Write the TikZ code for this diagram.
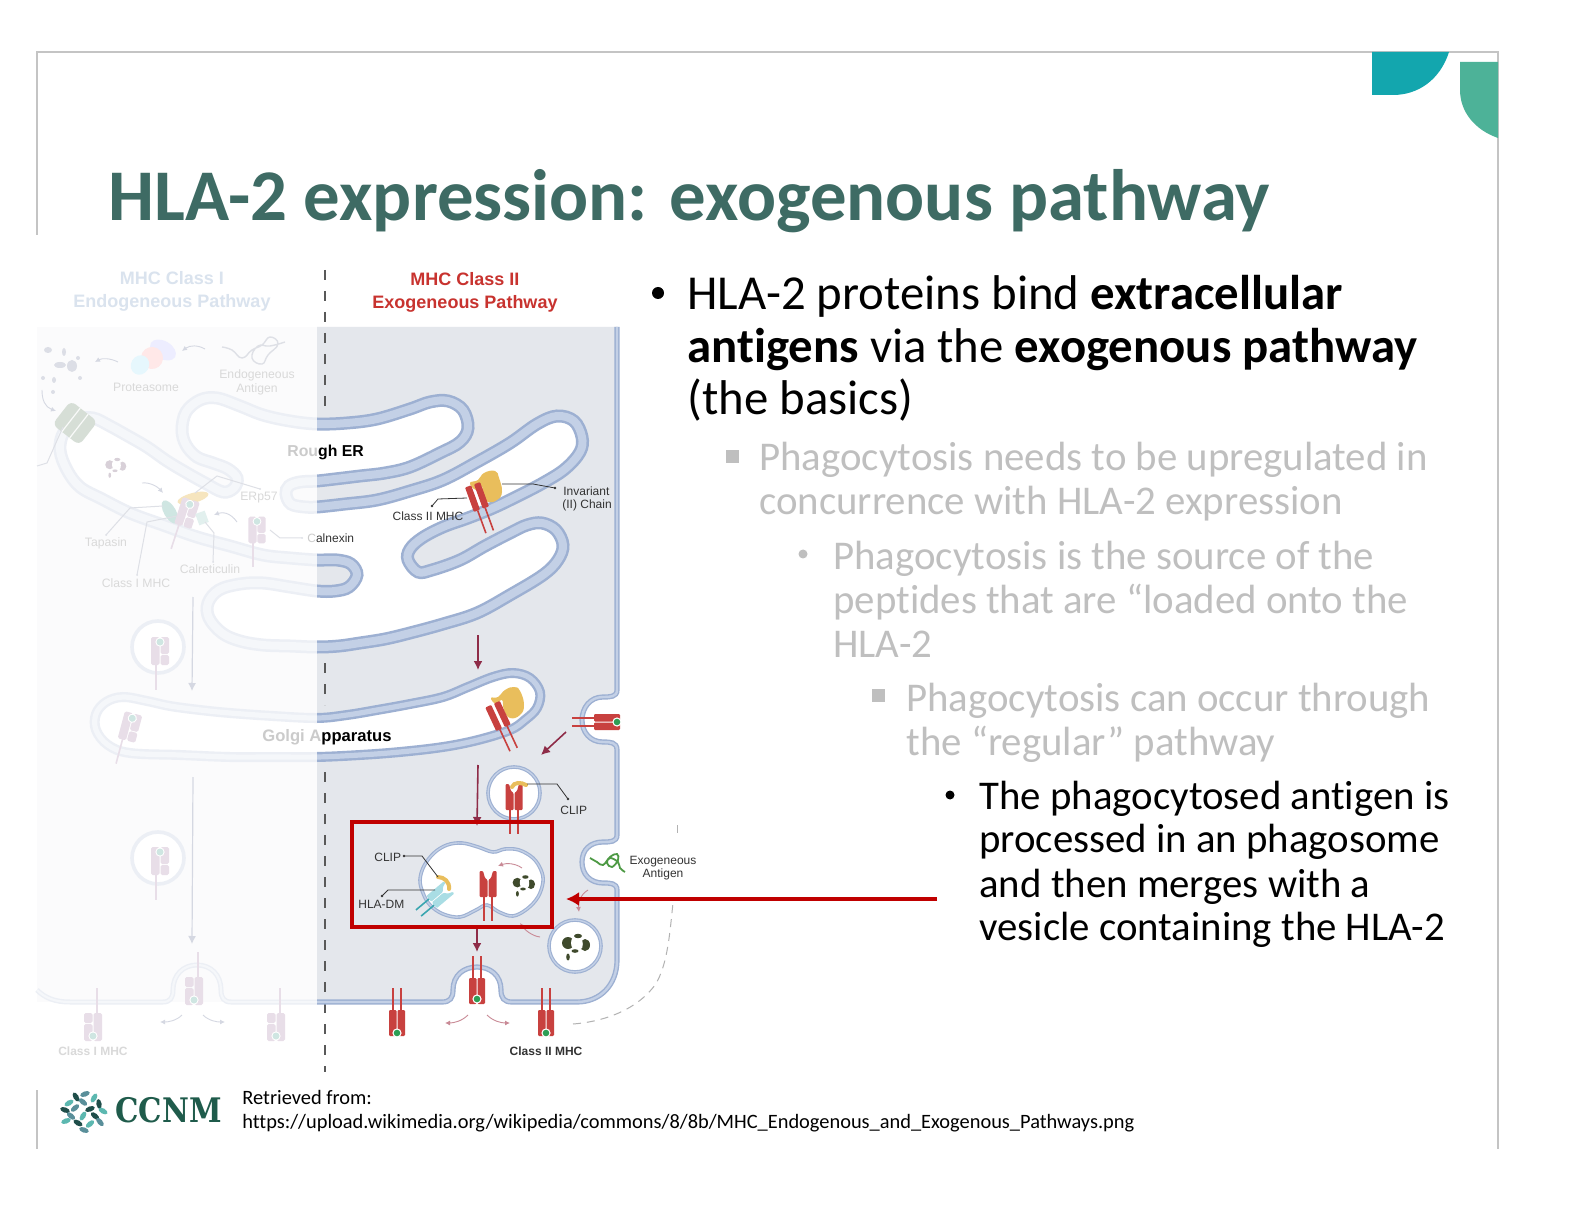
\documentclass[tikz,border=0pt]{standalone}
\usepackage{fontspec}
\usetikzlibrary{arrows.meta}
\setmainfont[Ligatures=NoCommon]{Carlito}
\newfontfamily\lab{Liberation Sans}
\newfontfamily\logofont{DejaVu Serif}
\definecolor{titlecol}{HTML}{3E6B64}
\definecolor{framecol}{HTML}{C4C4C4}
\definecolor{cornerA}{HTML}{13A6AE}
\definecolor{cornerB}{HTML}{4DB298}
\definecolor{greytext}{HTML}{BFBFBF}
\definecolor{panelgrey}{HTML}{E4E7EC}
\definecolor{panelfaint}{HTML}{FBFBFC}
\definecolor{banddark}{HTML}{9DB0D2}
\definecolor{bandlight}{HTML}{C3D0E6}
\definecolor{fbanddark}{HTML}{ECEFF5}
\definecolor{fbandlight}{HTML}{F5F7FA}
\definecolor{mhcred}{HTML}{C8413F}
\definecolor{mhcfaint}{HTML}{E8DEE8}
\definecolor{arrowred}{HTML}{8E2C48}
\definecolor{pinkarrow}{HTML}{C98A96}
\definecolor{boxred}{HTML}{C00000}
\definecolor{darkdebris}{HTML}{3F4A2C}
\definecolor{faintdebris}{HTML}{DCDEE6}
\definecolor{fainttext}{HTML}{D9D9D9}
\definecolor{fadebold}{HTML}{CBCBCB}
\definecolor{fainthead}{HTML}{DAE3EE}
\definecolor{headred}{HTML}{C8332F}
\definecolor{faintline}{HTML}{DEE0E6}
\definecolor{faintarrow}{HTML}{D5D8E2}
\definecolor{cliporange}{HTML}{E9BE5C}
\definecolor{labeltext}{HTML}{333333}
\definecolor{pepgreen}{HTML}{2E9E55}
\definecolor{pepfaint}{HTML}{CFE6E2}
\definecolor{dmblue}{HTML}{A9DDE4}
\definecolor{dmteal}{HTML}{3AA6B0}
\definecolor{antigen}{HTML}{4E9A45}
\definecolor{logoink}{HTML}{1F5B4B}
\definecolor{leafA}{HTML}{1F4E4A}
\definecolor{leafB}{HTML}{5CB8B0}
\definecolor{leafC}{HTML}{5A8F9A}
\definecolor{transl}{HTML}{D6DED6}
\tikzset{
  txt/.style={inner sep=0pt,anchor=base west},
  ctr/.style={inner sep=0pt,anchor=base},
  body/.style={txt,font=\fontsize{#1}{#1}\selectfont},
  lbl/.style={ctr,font=\lab\fontsize{6}{7}\selectfont,text=labeltext},
  flbl/.style={ctr,font=\lab\fontsize{6.1}{7}\selectfont,text=fainttext},
  mainarr/.style={arrowred,line width=.8pt,-{Latex[length=4.5pt,width=4.5pt]}},
  softarr/.style={pinkarrow,line width=.45pt,-{Latex[length=2.5pt,width=2.5pt]}},
  fadearr/.style={faintarrow,line width=.6pt,-{Latex[length=4pt,width=4pt]}},
  softfade/.style={faintarrow,line width=.45pt,-{Latex[length=2.5pt,width=2.5pt]}},
  leader/.style={labeltext,line width=.4pt},
  fleader/.style={faintline,line width=.5pt},
  pics/mhcout/.style={code={
    \draw[#1,line width=.8pt] (-4,-35) -- (-4,-13) (4,-35) -- (4,-13);
    \fill[#1,rounded corners=.6pt] (-8,-13) rectangle (-.5,13);
    \fill[#1,rounded corners=.6pt] (.5,-13) rectangle (8,13);
  }},
  pics/peptide/.style={code={
    \fill[white] (0,10) circle (4.6);
    \fill[#1] (0,10) circle (3.3);
  }},
  pics/mhcup/.style={code={
    \draw[#1,line width=.8pt] (-4,13) -- (-4,37) (4,13) -- (4,37);
    \fill[#1,rounded corners=.5pt] (-8.5,-13) -- (-5,-13) -- (-3,-6) -- (-.5,-4) -- (-.5,13) -- (-8.5,13) -- cycle;
    \fill[#1,rounded corners=.5pt] (8.5,-13) -- (5,-13) -- (3,-6) -- (.5,-4) -- (.5,13) -- (8.5,13) -- cycle;
  }},
  pics/mhcbar/.style={code={
    \draw[mhcred,line width=.8pt] (-4,13) -- (-4,37) (4,13) -- (4,37);
    \fill[mhcred,rounded corners=.5pt] (-8,-13) rectangle (-1.5,13);
    \fill[mhcred,rounded corners=.5pt] (1.5,-13) rectangle (8,13);
  }},
  pics/hladm/.style={code={
    \draw[dmteal,line width=.8pt] (-4,10) -- (-4,28) (4,10) -- (4,28);
    \fill[dmblue,rounded corners=.5pt] (-8,-12) -- (-6,-12) -- (-4,-7) -- (-.5,-4) -- (-.5,11) -- (-8,11) -- cycle;
    \fill[dmblue,rounded corners=.5pt] (8,-12) -- (6,-12) -- (4,-7) -- (.5,-4) -- (.5,11) -- (8,11) -- cycle;
  }},
  pics/classone/.style={code={
    \draw[mhcfaint,line width=.8pt] (4,-39) -- (4,-13);
    \fill[mhcfaint,rounded corners=.8pt] (0.5,-14) rectangle (9,14);
    \fill[mhcfaint,rounded corners=.8pt] (-9,-14) rectangle (-0.5,-4);
    \fill[mhcfaint,rounded corners=.8pt] (-9,-3) rectangle (-0.5,14);
    \fill[white] (0,9) circle (4.6);
    \fill[pepfaint] (0,9) circle (3.5);
  }},
  pics/classonein/.style={code={
    \draw[mhcfaint,line width=.8pt] (-4,13) -- (-4,39);
    \fill[mhcfaint,rounded corners=.8pt] (-9,-14) rectangle (-0.5,14);
    \fill[mhcfaint,rounded corners=.8pt] (0.5,-14) rectangle (9,3);
    \fill[mhcfaint,rounded corners=.8pt] (0.5,4) rectangle (9,14);
    \fill[white] (0,-9) circle (4.6);
    \fill[pepfaint] (0,-9) circle (3.5);
  }},
  pics/debris/.style={code={
    \fill[#1] (-7,-3) ellipse (6 and 6);
    \fill[#1] (3,-10) ellipse (4 and 2.2);
    \fill[#1] (10,-1) ellipse (5 and 6);
    \fill[#1] (0,5) ellipse (3.5 and 1.8);
    \fill[#1] (-7,11) ellipse (1.8 and 3.5);
    \fill[white] (-2,-3) ellipse (2 and 5);
    \fill[white] (6,-2) ellipse (1.8 and 5);
  }},
}
\def\ercurve{plot[smooth cycle,tension=.6] coordinates {
 (377,419)(410,409)(430,402)(448,401)(463,410)(468,428)(460,442)(440,453)(410,467)(385,473)(360,476)(335,479)(317,481)
 (300,482)(289,486)(286,494)(291,504)(305,507)(317,507)(345,504)(377,500)(410,491)(443,480)(477,462)(510,443)(537,424)(557,416)(574,421)(582,437)(580,452)(565,469)(543,483)(518,496)(493,508)(468,518)(443,527)(422,538)(410,549)(408,560)(418,572)(432,570)(460,560)(485,546)(510,533)(527,525)(542,523)(556,530)(563,545)(558,560)(543,575)(510,595)(477,613)(443,624)(410,633)(385,639)(360,643)(339,646)(317,647)(290,646)(263,645)(240,641)(222,633)(209,618)(208,603)(219,590)(240,584)(263,583)(290,587)(317,591)(335,591)(349,587)(357,575)(351,564)(337,560)(317,560)(290,558)(263,555)(230,546)(197,537)(163,525)(130,513)(102,499)(80,487)(67,470)(60,450)(64,432)(78,420)(93,418)(110,426)(128,436)(147,447)(167,461)(187,473)(205,483)(223,492)(234,488)(237,478)(228,469)(213,463)(197,457)(186,445)(182,430)(186,412)(200,400)(217,398)(240,406)(263,415)(290,421)(317,424)(347,423)}}
\def\golgicurve{plot[smooth cycle,tension=.6] coordinates {
 (317,718)(347,715)(377,710)(410,704)(443,697)(468,687)(493,677)(513,673)(530,678)(540,692)(537,708)(525,720)(510,730)(478,740)(443,747)(400,752)(360,755)(317,757)(273,757)(230,757)(180,755)(130,753)(108,745)(96,730)(96,714)(106,702)(123,697)(147,701)(170,706)(200,710)(230,713)(273,716)}}
\def\cellcurve{(617,327) -- (617,690) .. controls (617,697) and (610,697) .. (603,697) .. controls (590,697) and (582,708) .. (582,720) .. controls (582,732) and (590,742) .. (603,742) .. controls (610,742) and (617,742) .. (617,750) -- (617,835) .. controls (617,842) and (610,842) .. (603,842) .. controls (590,842) and (582,850) .. (582,862) .. controls (582,874) and (590,883) .. (603,883) .. controls (610,883) and (617,883) .. (617,890) -- (617,960) .. controls (617,985) and (600,1002) .. (577,1002) -- (512,1002) .. controls (504,1002) and (501,998) .. (501,990) .. controls (501,975) and (490,967) .. (477,967) .. controls (464,967) and (453,975) .. (453,990) .. controls (453,998) and (450,1002) .. (442,1002) -- (317,1002)}
\def\faintcell{(37,990) .. controls (45,998) and (55,1002) .. (70,1002) -- (163,1002) .. controls (170,1002) and (173,998) .. (173,990) .. controls (173,975) and (183,965) .. (197,965) .. controls (211,965) and (221,975) .. (221,990) .. controls (221,998) and (224,1002) .. (231,1002) -- (317,1002)}
\def\lysocurve{plot[smooth cycle,tension=.6] coordinates {(420,880)(424,866)(434,853)(447,845)(462,843)(478,847)(493,852)(505,849)(519,850)(533,858)(541,870)(543,882)(538,897)(527,909)(513,916)(499,912)(487,905)(476,910)(460,917)(443,914)(430,905)(423,893)}}
\begin{document}
\begin{tikzpicture}[x=.5pt,y=-.5pt]
\useasboundingbox (0,0) rectangle (1584,1224);
\fill[white] (0,0) rectangle (1584,1224);

% ---------- slide frame and corners
\draw[framecol,line width=.7pt] (37,235) -- (37,52) -- (1498,52) -- (1498,1149);
\draw[framecol,line width=.7pt] (37,1090) -- (37,1149);
\fill[cornerA] (1372,52) -- (1449,52) .. controls (1440,80) and (1418,95) .. (1393,95) -- (1372,95) -- cycle;
\fill[cornerB] (1460,62) -- (1498,62) -- (1498,138) .. controls (1475,130) and (1460,112) .. (1460,90) -- cycle;

% ---------- cell background
\fill[panelfaint] (37,327) rectangle (317,1002);
\fill[panelgrey] \cellcurve -- (317,327) -- cycle;

% dashed divider
\draw[black!65,line width=.6pt,dash pattern=on 5pt off 5.5pt] (325,270) -- (325,408);
\draw[black!65,line width=.6pt,dash pattern=on 5pt off 5.5pt] (325,663) -- (325,705);
\draw[black!65,line width=.6pt,dash pattern=on 5pt off 5.5pt] (325,772) -- (325,1072);

% membranes
\draw[fbanddark,line width=2.5pt] \faintcell;
\draw[fbandlight,line width=1.1pt] \faintcell;
\draw[banddark,line width=2.6pt] \cellcurve;
\draw[bandlight,line width=1.2pt] \cellcurve;

% ER and Golgi, faded on the left
\begin{scope}
\clip (30,300) rectangle (317,1000);
\fill[white] \ercurve;
\draw[fbanddark,line width=6.5pt] \ercurve;
\draw[fbandlight,line width=4pt] \ercurve;
\fill[white] \golgicurve;
\draw[fbanddark,line width=5pt] \golgicurve;
\draw[fbandlight,line width=2.6pt] \golgicurve;
\end{scope}
\begin{scope}
\clip (317,300) rectangle (700,1000);
\fill[white] \ercurve;
\draw[banddark,line width=6.5pt] \ercurve;
\draw[bandlight,line width=4pt] \ercurve;
\fill[white] \golgicurve;
\draw[banddark,line width=5pt] \golgicurve;
\draw[bandlight,line width=2.6pt] \golgicurve;
\end{scope}

% ---------- faded class I side
\fill[transl,rounded corners=3pt,rotate around={-38:(75,423)}] (58,408) rectangle (92,438);
\draw[white!85!transl,line width=.6pt,rotate around={-38:(75,423)}] (70,408) -- (70,438) (80,408) -- (80,438);
\draw[fleader] (63,427) -- (47,463) -- (37,466);
\fill[faintdebris] (48,350) ellipse (4 and 3) (64,352) ellipse (2 and 4) (43,378) ellipse (2 and 2) (80,378) ellipse (2 and 2) (54,380) ellipse (2 and 3) (78,358) ellipse (2 and 2) (60,365) ellipse (6 and 3) (72,366) ellipse (5 and 6) (53,392) ellipse (2 and 2);
\fill[blue!7,rotate around={60:(163,350)}] (163,350) ellipse (9 and 14);
\fill[red!9,rotate around={60:(152,358)}] (152,358) ellipse (11 and 11);
\fill[cyan!10,rotate around={60:(140,365)}] (140,365) ellipse (10 and 9);
\draw[faintline,line width=.7pt] plot[smooth,tension=.8] coordinates {(222,347)(232,350)(242,358)(252,350)(262,345)(270,337)(278,344)(268,355)(262,364)(252,358)(258,346)(270,346)(285,342)};
\draw[softfade] (205,349) .. controls (198,345) and (190,345) .. (182,351);
\draw[softfade] (118,362) .. controls (110,358) and (102,358) .. (95,362);
\draw[softfade] (42,390) .. controls (42,400) and (45,407) .. (56,411);
\pic at (115,467) [scale=.75] {debris=mhcfaint!85!gray};
\draw[softfade] (142,483) .. controls (150,482) and (158,487) .. (163,493);
\draw[softfade] (237,522) .. controls (230,512) and (222,512) .. (214,515);
\fill[cliporange!40!white,rotate around={15:(193,498)}] (193,498) ellipse (16 and 5);
\fill[pepfaint,rotate around={-60:(170,512)}] (170,512) ellipse (13 and 6);
\pic[rotate=-18] at (187,513) {classonein};
\fill[pepfaint!60!white,rotate around={20:(202,518)}] (197,512) rectangle (207,524);
\pic[rotate=0,scale=.95] at (257,530) {classonein};
% leaders, faded
\draw[fleader] (195,493) -- (217,476) -- (260,489);
\draw[fleader] (163,506) -- (130,508) -- (106,535);
\draw[fleader] (177,516) -- (147,522) -- (137,575);
\draw[fleader] (205,522) -- (214,533) -- (213,562);
\draw[fleader] (270,530) -- (280,538) -- (302,538);
\fill[faintline] (260,489) circle (1) (106,535) circle (1) (137,575) circle (1) (213,562) circle (1) (302,538) circle (1);
% faded vesicles and class I molecules
\foreach \vx/\vy in {158/647,158/858}{
  \fill[white] (\vx,\vy) circle (26);
  \draw[fbanddark,line width=1.8pt] (\vx,\vy) circle (26);
}
\pic at (160,651) {classonein};
\pic at (160,861) {classonein};
\pic[rotate=-15] at (130,727) {classonein};
\pic at (93,1027) {classone};
\pic at (276,1027) {classone};
\pic at (194,991) {classone};
\coordinate (fa1s) at (193,597); \coordinate (fa1e) at (192,691);
\coordinate (fa2s) at (193,777); \coordinate (fa2e) at (192,944);
\draw[fadearr] (fa1s) -- (fa1e);
\draw[fadearr] (fa2s) -- (fa2e);
\draw[softfade] (182,1015) .. controls (176,1021) and (168,1022) .. (160,1022);
\draw[softfade] (203,1015) .. controls (209,1021) and (217,1022) .. (225,1022);

% ---------- class II side
\begin{scope}
% invariant chain in the ER
\fill[cliporange] plot[smooth cycle,tension=.8] coordinates {(470,483)(478,480)(484,473)(495,471)(499,478)(502,492)(497,500)(488,502)(482,496)(482,486)(476,490)};
\pic[rotate=20] at (477,497) {mhcbar};
\coordinate (iidot) at (432,506); \coordinate (invdot) at (555,488);
\draw[leader] (467,498) -- (438,499) -- (iidot);
\draw[leader] (502,484) -- (533,484) -- (invdot);
\fill[labeltext] (iidot) circle (1.3) (invdot) circle (1.3);
% Golgi cargo
\fill[cliporange] plot[smooth cycle,tension=.8] coordinates {(491,698)(498,697)(505,690)(514,687)(520,691)(524,705)(520,715)(510,718)(504,710)(502,700)(496,704)};
\pic[rotate=25] at (498,716) {mhcbar};
% plasma membrane molecules
\pic[rotate=90] at (607,722) {mhcout=mhcred};
\pic[rotate=90] at (607,722) {peptide=pepgreen};
\pic at (397,1023) {mhcout=mhcred};
\pic at (397,1023) {peptide=pepgreen};
\pic at (546,1023) {mhcout=mhcred};
\pic at (546,1023) {peptide=pepgreen};
\pic at (477,991) {mhcout=mhcred};
\pic at (477,989) {peptide=pepgreen};
\end{scope}

% arrows
\coordinate (a1s) at (478,635); \coordinate (a1e) at (478,670);
\coordinate (a2s) at (566,732); \coordinate (a2e) at (541,755);
\coordinate (a3s) at (478,765); \coordinate (a3e) at (477,826);
\coordinate (a4s) at (477,929); \coordinate (a4e) at (477,952);
\draw[mainarr] (a1s) -- (a1e);
\draw[mainarr] (a2s) -- (a2e);
\draw[mainarr] (a3s) -- (a3e);
\draw[mainarr] (a4s) -- (a4e);
\draw[softarr] (540,937) .. controls (532,936) and (525,930) .. (520,923);
\draw[softarr] (588,890) .. controls (580,895) and (578,903) .. (579,912);
\draw[softarr] (468,1015) .. controls (462,1021) and (454,1023) .. (445,1023);
\draw[softarr] (487,1015) .. controls (493,1021) and (501,1023) .. (510,1023);

% vesicle with CLIP
\fill[white] (514,793) circle (26);
\draw[banddark,line width=1.8pt] (514,793) circle (26);
\draw[bandlight,line width=.7pt] (514,793) circle (26);
\pic at (514,797) {mhcup=mhcred};
\draw[cliporange,line width=2pt,line cap=round] (512,787) .. controls (514,782) and (521,782) .. (526,785);
\coordinate (clipadot) at (568,799);
\draw[leader] (527,784) -- (557,784) -- (clipadot);
\fill[labeltext] (clipadot) circle (1.3);

% late phagosome
\fill[white] \lysocurve;
\draw[banddark,line width=1.8pt] \lysocurve;
\draw[bandlight,line width=.7pt] \lysocurve;
\pic at (488,884) {mhcup=mhcred};
\pic at (523,885) [scale=.8] {debris=darkdebris};
\draw[softarr] (522,868) .. controls (515,863) and (506,863) .. (498,866);
\pic[rotate=-50] at (440,895) {hladm};
\draw[cliporange,line width=2pt,line cap=round] (438,877) .. controls (444,877) and (450,882) .. (449,889);
\coordinate (clipbdot) at (404,856); \coordinate (dmdot) at (382,896);
\draw[leader] (clipbdot) -- (422,856) -- (438,877);
\draw[leader] (dmdot) -- (388,890) -- (435,890);
\fill[labeltext] (clipbdot) circle (1.3) (dmdot) circle (1.3);

% antigen vesicle
\fill[white] (575,946) circle (26);
\draw[banddark,line width=1.8pt] (575,946) circle (26);
\draw[bandlight,line width=.7pt] (575,946) circle (26);
\pic at (575,946) {debris=darkdebris};

% exogenous antigen
\draw[antigen,line width=.9pt] plot[smooth,tension=.7] coordinates {(590,858)(597,862)(603,865)(610,857)(617,854)(618,860)(612,867)(607,863)(610,858)(618,862)(620,868)(625,872)};

% outer dashed pathway
\draw[black!30,line width=.5pt,dash pattern=on 4pt off 3pt] (573,1024) .. controls (600,1022) and (635,1012) .. (655,985) .. controls (668,965) and (670,930) .. (673,903);
\draw[black!30,line width=.5pt] (677,825) -- (677,833);

% red call-out
\draw[boxred,line width=2pt] (352,822) rectangle (552,927);
\coordinate (calloutstart) at (937,899);
\coordinate (callouttip) at (566,899);
\draw[boxred,line width=2pt,-{Latex[length=6.5pt,width=7pt]}] (calloutstart) -- (callouttip);

% ---------- diagram labels
\node[ctr,font=\lab\bfseries\fontsize{9}{10}\selectfont,text=fainthead] (headone) at (172,285) {MHC Class I};
\node[ctr,font=\lab\bfseries\fontsize{9}{10}\selectfont,text=fainthead] (headonep) at (172,308) {Endogeneous Pathway};
\node[ctr,font=\lab\bfseries\fontsize{9}{10}\selectfont,text=headred] (headtwo) at (465,286) {MHC Class II};
\node[ctr,font=\lab\bfseries\fontsize{9}{10}\selectfont,text=headred] (headtwop) at (465,309) {Exogeneous Pathway};
\node[flbl] (proteasome) at (146,392) {Proteasome};
\node[flbl] (endoa) at (257,379) {Endogeneous};
\node[flbl] (endob) at (257,393) {Antigen};
\node[flbl] (erp) at (259,501) {ERp57};
\node[flbl] (tapasin) at (106,546) {Tapasin};
\node[flbl] (calret) at (210,574) {Calreticulin};
\node[flbl] (classonem) at (136,588) {Class I MHC};
\node[flbl,font=\lab\bfseries\fontsize{6}{7}\selectfont] (classoneb) at (93,1055) {Class I MHC};
\node[txt,font=\lab\bfseries\fontsize{7.9}{9}\selectfont] (rougher) at (287,457) {\textcolor{fadebold}{Rou}gh ER};
\node[txt,font=\lab\fontsize{6}{7}\selectfont,text=labeltext] (calnexin) at (307,543) {\textcolor{fadebold}{C}alnexin};
\node[txt,font=\lab\bfseries\fontsize{8.3}{9}\selectfont] (golgi) at (262,741) {\textcolor{fadebold}{Golgi A}pparatus};
\node[lbl] (classtwo) at (428,521) {Class II MHC};
\node[lbl,anchor=base west] (inva) at (563,495) {Invariant};
\node[lbl,anchor=base west] (invb) at (562,509) {(II) Chain};
\node[lbl,anchor=base west] (clipa) at (560,814) {CLIP};
\node[lbl,anchor=base west] (clipb) at (374,861) {CLIP};
\node[lbl,anchor=base west] (hladm) at (358,908) {HLA-DM};
\node[lbl] (exoa) at (663,864) {Exogeneous};
\node[lbl] (exob) at (663,877) {Antigen};
\node[lbl,font=\lab\bfseries\fontsize{6}{7}\selectfont] (classtwob) at (546,1055) {Class II MHC};

% ---------- slide text
\node[txt,font=\bfseries\fontsize{36.4}{36}\selectfont,text=titlecol] (title) at (108,221) {HLA-2 expression: exogenous pathway};

\fill[black] (658,293) circle (6);
\node[body=24.4] (la) at (687,310) {HLA-2 proteins bind \textbf{extracellular}};
\node[body=24.4] (lb) at (687,363) {\textbf{antigens} via the \textbf{exogenous pathway}};
\node[body=24.4] (lc) at (687,415) {(the basics)};

\fill[greytext] (726,450) rectangle (739,463);
\node[body=20.4,text=greytext] (ma) at (759,471) {Phagocytosis needs to be upregulated in};
\node[body=20.4,text=greytext] (mb) at (759,515) {concurrence with HLA-2 expression};

\fill[greytext] (803,554) circle (4.5);
\node[body=20.4,text=greytext] (na) at (833,569) {Phagocytosis is the source of the};
\node[body=20.4,text=greytext] (nb) at (833,613) {peptides that are “loaded onto the};
\node[body=20.4,text=greytext] (nc) at (833,657) {HLA-2};

\fill[greytext] (872,689) rectangle (885,702);
\node[body=20.4,text=greytext] (pa) at (906,711) {Phagocytosis can occur through};
\node[body=20.4,text=greytext] (pb) at (906,755) {the “regular” pathway};

\fill[black] (950,795) circle (4.5);
\node[body=20.4] (qa) at (979,809) {The phagocytosed antigen is};
\node[body=20.4] (qb) at (979,852) {processed in an phagosome};
\node[body=20.4] (qc) at (979,897) {and then merges with a};
\node[body=20.4] (qd) at (979,940) {vesicle containing the HLA-2};

\node[body=10.2] (ra) at (242,1104) {Retrieved from:};
\node[body=10.2] (rb) at (242,1128) {https://upload.wikimedia.org/wikipedia/commons/8/8b/MHC\_Endogenous\_and\_Exogenous\_Pathways.png};

% ---------- logo
\foreach \lx/\ly/\la/\lc in {
 85/1094/20/leafC,76/1097/120/leafA,94/1098/60/leafB,69/1103/30/leafB,83/1102/140/leafC,99/1104/100/leafA,
 65/1110/-20/leafA,75/1108/40/leafC,90/1109/20/leafA,103/1111/-30/leafB,71/1116/-40/leafC,83/1116/60/leafB,
 95/1116/-40/leafA,66/1121/20/leafB,78/1123/-30/leafA,90/1124/40/leafB,100/1122/-50/leafC,84/1130/-20/leafC}
 {\fill[\lc,rotate around={\la:(\lx,\ly)}] (\lx,\ly) ellipse (5 and 2.6);}
\node[txt,font=\logofont\bfseries\fontsize{14.7}{17}\selectfont,text=logoink] (ccnm) at (115,1122) {\scalebox{1}[1.15]{CCNM}};
\end{tikzpicture}
\end{document}
